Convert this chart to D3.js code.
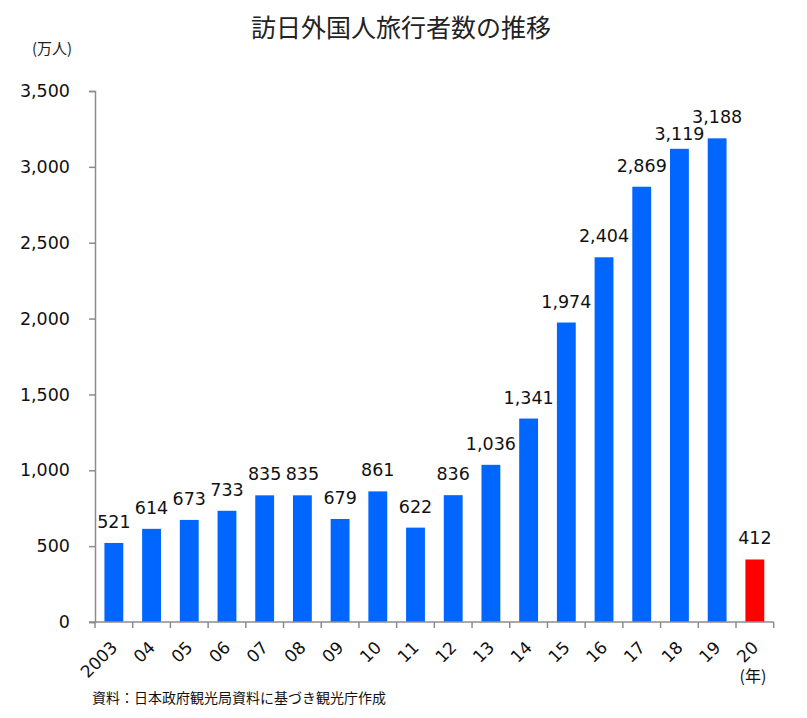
<!DOCTYPE html>
<html><head><meta charset="utf-8">
<script src="https://cdn.jsdelivr.net/npm/d3@7/dist/d3.min.js"></script>
<style>body{margin:0;background:#fff}</style>
</head><body>
<script>
const categories = ["2003","04","05","06","07","08","09","10","11","12","13","14","15","16","17","18","19","20"];
const values = [521,614,673,733,835,835,679,861,622,836,1036,1341,1974,2404,2869,3119,3188,412];
const yTicks = [0,500,1000,1500,2000,2500,3000,3500];
const title = "訪日外国人旅行者数の推移";
const unitLabel = "(万人)";
const yearLabel = "(年)";
const sourceText = "資料：日本政府観光局資料に基づき観光庁作成";

const W = 807, H = 718;
const mLeft = 95, mRight = 773.7, mTop = 91, mBottom = 622;
const svg = d3.select("body").append("svg").attr("width", W).attr("height", H)
  .style("font-family", "'DejaVu Sans', Verdana, sans-serif");

const x = d3.scaleBand().domain(categories).range([mLeft, mRight]).paddingInner(0.5).paddingOuter(0.25);
const y = d3.scaleLinear().domain([0, 3500]).range([mBottom, mTop]);
const axisColor = "#8c8c8c";

svg.append("text").attr("x", 401).attr("y", 37).attr("text-anchor", "middle")
  .style("font-family", "'Noto Sans CJK JP', sans-serif").style("font-size", "25px").attr("fill", "#222")
  .text(title);

svg.append("text").attr("x", 52).attr("y", 54).attr("text-anchor", "middle")
  .style("font-family", "'Noto Sans CJK JP', sans-serif").style("font-size", "15px").attr("fill", "#222")
  .text(unitLabel);

const yAxis = d3.axisLeft(y).tickValues(yTicks).tickSize(6).tickPadding(19)
  .tickFormat(d3.format(","));
const gy = svg.append("g").attr("transform", `translate(${mLeft},0)`).call(yAxis);
gy.select(".domain").attr("stroke", axisColor).attr("stroke-width", 1.5);
gy.selectAll(".tick line").attr("stroke", axisColor).attr("stroke-width", 1.5);
gy.selectAll(".tick text").style("font-size", "17.5px").attr("fill", "#111")
  .style("font-family", "'DejaVu Sans', Verdana, sans-serif");

svg.append("g").selectAll("rect").data(values).join("rect")
  .attr("x", (d, i) => x(categories[i]))
  .attr("y", d => y(d))
  .attr("width", x.bandwidth())
  .attr("height", d => y(0) - y(d))
  .attr("fill", (d, i) => i === values.length - 1 ? "#ff0000" : "#0066ff");

svg.append("g").selectAll("text").data(values).join("text")
  .attr("x", (d, i) => x(categories[i]) + x.bandwidth() / 2)
  .attr("y", (d, i) => y(d) - (i === 15 ? 9 : 15))
  .attr("text-anchor", "middle")
  .style("font-size", "17.5px").attr("fill", "#111")
  .text(d => d3.format(",")(d));

svg.append("line").attr("x1", mLeft - 6).attr("x2", mRight).attr("y1", mBottom).attr("y2", mBottom)
  .attr("stroke", axisColor).attr("stroke-width", 1.5);
const step = x.step();
const tickXs = categories.map((c, i) => mLeft + i * step).concat([mRight]);
svg.append("g").selectAll("line").data(tickXs).join("line")
  .attr("x1", d => d).attr("x2", d => d).attr("y1", mBottom).attr("y2", mBottom + 6)
  .attr("stroke", axisColor).attr("stroke-width", 1.5);

svg.append("g").selectAll("text").data(categories).join("text")
  .attr("transform", c => `translate(${x(c) + x.bandwidth() / 2 + 4.5},${mBottom + 26.5}) rotate(-45)`)
  .attr("text-anchor", "end")
  .style("font-size", "17px").attr("fill", "#111")
  .text(c => c);

svg.append("text").attr("x", 753).attr("y", 682).attr("text-anchor", "middle")
  .style("font-family", "'Noto Sans CJK JP', sans-serif").style("font-size", "16px").attr("fill", "#111")
  .text(yearLabel);

svg.append("text").attr("x", 92).attr("y", 703)
  .style("font-family", "'Noto Sans CJK JP', sans-serif").style("font-size", "14px").attr("fill", "#111")
  .text(sourceText);
</script>
</body></html>
